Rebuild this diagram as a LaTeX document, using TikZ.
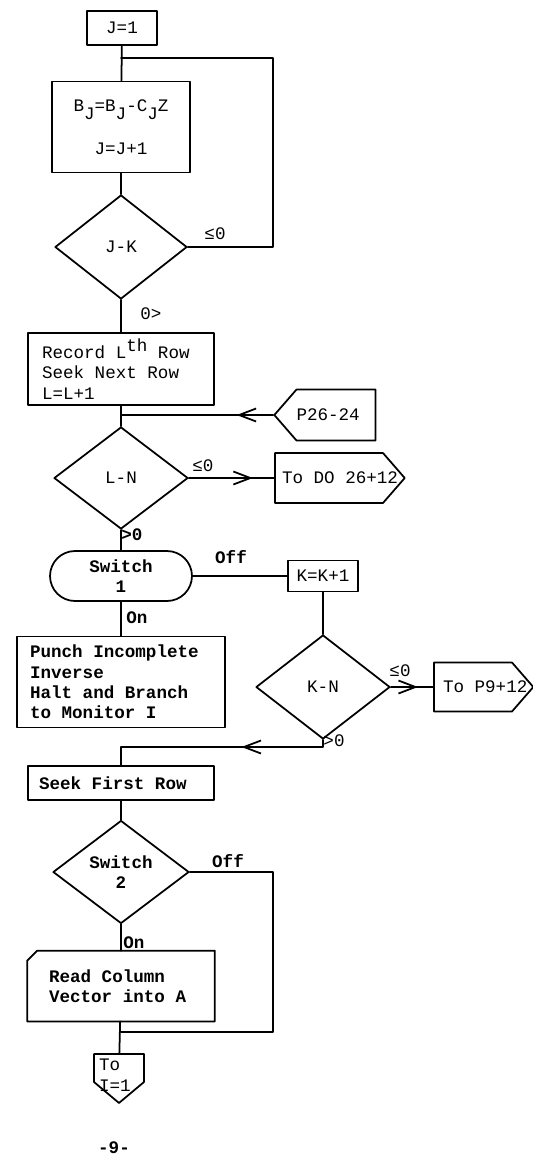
\documentclass[tikz,border=0pt]{standalone}
\usepackage{fontspec}
\setmonofont{Liberation Mono}[WordSpace={1,0,0}]
\usepackage{tikz}
\usetikzlibrary{arrows.meta,shapes.geometric,shapes.misc,shapes.symbols,decorations.markings}

\tikzset{
    every node/.style={font=\ttfamily\fontsize{10}{11.6}\selectfont},
    heavy/.style={font=\ttfamily\bfseries\fontsize{10}{11.6}\selectfont},
    box/.style={draw, rectangle, inner sep=0pt},
    textbox/.style={draw, rectangle, inner xsep=#1, inner ysep=0pt, align=left,
        execute at begin node={\spaceskip=0pt\xspaceskip=0pt}},
    decision/.style={draw, diamond, inner sep=0pt, align=center},
    switchbox/.style={draw, rounded rectangle, inner sep=0pt, align=center},
    tag/.style={draw, signal, signal to=#1, signal pointer angle=98, inner ysep=0pt},
    lbl/.style={inner sep=0pt},
    midarrow/.style={postaction={decorate}, decoration={markings,
        mark=at position #1 with {\arrow{Straight Barb[length=3.4mm,width=2.6mm]}}}}
}

\begin{document}
\begin{tikzpicture}[
    x=0.02cm, y=-0.02cm,
    line width=1pt,
    line cap=round,
    line join=round
]
\useasboundingbox (0,0) rectangle (532,1157);

% Schleife ueber J
\node[box, minimum width=1.4cm, minimum height=0.68cm] (j1) at (122,28) {J=1};
\node[box, align=center, minimum width=2.76cm, minimum height=1.82cm] (bj) at (121,127)
    {B\raisebox{-5pt}{J}=B\raisebox{-5pt}{J}-C\raisebox{-5pt}{J}Z\\[12pt] J=J+1};
\node[decision, minimum width=2.64cm, minimum height=2.08cm] (jk) at (121,247) {J-K};
\coordinate (jloop) at (121,58);

% Zeile L
\node[textbox=0.28cm, text width=3.16cm, minimum height=1.44cm] (rec) at (121,369)
    {Record L\raisebox{0.7ex}{th} Row\\Seek Next Row\\L=L+1};
\coordinate (recjn) at (121,415);
\node[tag=west, inner xsep=0pt, minimum height=1.02cm] (p26) at (336,415)
    {\makebox[1.58cm][l]{P26-24}};
\node[decision, minimum width=2.68cm, minimum height=2.04cm] (ln) at (121,478) {L-N};
\node[tag=east, inner xsep=0.14cm, minimum height=1.0cm] (todo) at (329,478)
    {\makebox[1.88cm][l]{To DO 26+12}};

% Schalter 1
\node[switchbox, heavy, minimum width=2.84cm, minimum height=1.0cm] (sw1) at (121,576) {Switch\\1};
\node[box, minimum width=1.4cm, minimum height=0.62cm] (kk) at (323,576) {K=K+1};
\node[textbox=0.26cm, heavy, text width=3.64cm, minimum height=1.82cm] (punch) at (121,682)
    {Punch Incomplete\\Inverse\\Halt and Branch\\to Monitor I};
\node[decision, minimum width=2.68cm, minimum height=2.08cm] (kn) at (323,687) {K-N};
\node[tag=east, inner xsep=0.18cm, minimum height=0.98cm] (p9) at (473,687)
    {\makebox[1.2cm][l]{To P9+12}};
\coordinate (knjn) at (121,747);

% Schalter 2
\node[textbox=0.22cm, heavy, text width=3.28cm, minimum height=0.68cm] (seek) at (121,783) {Seek First Row};
\node[decision, heavy, minimum width=2.72cm, minimum height=2.06cm] (sw2) at (121,872) {Switch\\2};
\node[textbox=0.42cm, heavy, draw=none, text width=2.88cm, minimum height=1.38cm] (read) at (121,986)
    {Read Column\\Vector into A};
\coordinate (rdjn) at (121,1032);
\node[tag=south, signal pointer angle=100, inner xsep=0.1cm] (toi) at (119,1068)
    {\parbox[c][0.56cm][t]{0.8cm}{\vspace{3pt}To\\I=1}};

% Beschriftungen
\node[lbl] (le1) at (215,234) {≤0};
\node[lbl] (gt1) at (151,314) {0>};
\node[lbl] (le2) at (203,466) {≤0};
\node[lbl, heavy] (gt2) at (132,535) {>0};
\node[lbl, heavy] (off1) at (231,557) {Off};
\node[lbl, heavy] (on1) at (137,618) {On};
\node[lbl] (le3) at (400,671) {≤0};
\node[lbl] (gt3) at (334,741) {>0};
\node[lbl, heavy] (off2) at (228,861) {Off};
\node[lbl, heavy] (on2) at (134,943) {On};
\node[lbl, heavy] (pagenum) at (114,1148) {-9-};

% Karte
\draw ([xshift=0.2cm]read.north west) -- (read.north east) -- (read.south east)
    -- (read.south west) -- ([yshift=-0.2cm]read.north west) -- cycle;

% Verbindungen
\draw (j1) -- (bj);
\draw (bj) -- (jk);
\draw (jk.east) -- ++(85,0) |- (jloop);
\draw (jk) -- (rec);
\draw (rec) -- (ln);
\draw[midarrow=0.24] (p26) -- (recjn);
\draw[midarrow=0.75] (ln) -- (todo);
\draw (ln) -- (sw1);
\draw (sw1) -- (kk);
\draw (sw1) -- (punch);
\draw (kk) -- (kn);
\draw[midarrow=0.64] (kn) -- (p9);
\draw[midarrow=0.39] (kn.south) -- (knjn -| kn.south) -- (knjn) -- (seek);
\draw (seek) -- (sw2);
\draw (sw2) -- (read);
\draw (sw2.east) -- ++(83,0) |- (rdjn);
\draw (read) -- (toi);

\end{tikzpicture}
\end{document}
